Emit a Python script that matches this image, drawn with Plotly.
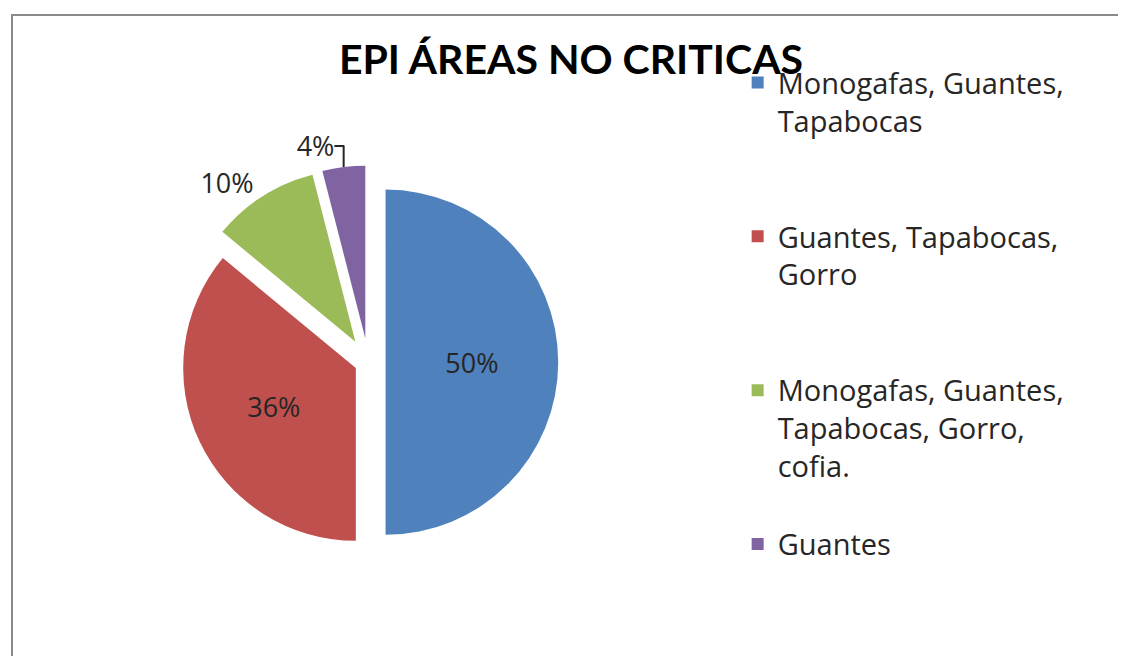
import plotly.graph_objects as go

categories = [
    "Monogafas, Guantes,<br>Tapabocas<br> <br> ",
    "Guantes, Tapabocas,<br>Gorro<br> <br> ",
    "Monogafas, Guantes,<br>Tapabocas, Gorro,<br>cofia.<br> ",
    "Guantes",
]
values = [50, 36, 10, 4]
colors = ["#4F81BD", "#C0504D", "#9BBB59", "#8064A2"]
title_text = "EPI ÁREAS NO CRITICAS"

fig = go.Figure(
    go.Pie(
        labels=categories,
        values=values,
        sort=False,
        direction="clockwise",
        rotation=0,
        marker=dict(colors=colors, line=dict(color="white", width=0)),
        pull=[0.1, 0.08, 0.14, 0.14],
        textinfo="percent",
        texttemplate="%{percent:.0%}",
        textposition=["inside", "inside", "outside", "outside"],
        insidetextorientation="horizontal",
        textfont=dict(family="Open Sans", size=27, color="#262626"),
        domain=dict(x=[0.11, 0.53], y=[0.16, 0.76]),
        hoverinfo="label+percent",
    )
)

fig.update_layout(
    width=1126,
    height=656,
    margin=dict(l=0, r=0, t=0, b=0),
    paper_bgcolor="white",
    plot_bgcolor="white",
    title=dict(
        text="<b>" + title_text + "</b>",
        x=0.5,
        xanchor="center",
        y=0.922,
        yanchor="middle",
        font=dict(family="Lato", size=41, color="black"),
    ),
    legend=dict(
        x=0.648,
        xanchor="left",
        y=0.925,
        yanchor="top",
        valign="top",
        font=dict(family="Open Sans", size=29, color="#262626"),
        bgcolor="rgba(0,0,0,0)",
        itemclick=False,
    ),
    shapes=[
        dict(
            type="rect",
            xref="paper",
            yref="paper",
            x0=4 / 1126,
            x1=1123 / 1126,
            y0=-0.05,
            y1=1 - 7 / 656,
            line=dict(color="#8a8a8a", width=2),
            fillcolor="rgba(0,0,0,0)",
            layer="below",
        )
    ],
)

fig.write_html("out.html")
